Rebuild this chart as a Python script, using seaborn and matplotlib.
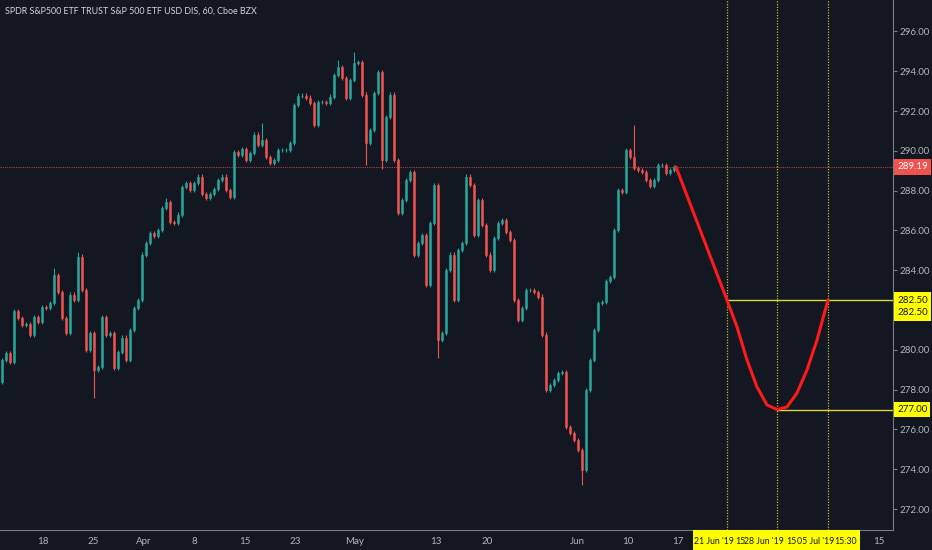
import numpy as np
import pandas as pd
import matplotlib
matplotlib.use("Agg")
import matplotlib.pyplot as plt
import matplotlib.transforms as mtransforms
from matplotlib.patches import Rectangle
import seaborn as sns

# ---------------- data ----------------
title = "SPDR S&P500 ETF TRUST S&P 500 ETF USD DIS, 60, Cboe BZX"
first_open = 278.38
closes = [
    279.49, 279.84, 279.39, 281.95, 281.60, 281.25, 281.30, 280.75, 281.65, 281.40,
    282.15, 282.10, 282.35, 283.76, 282.91, 281.60, 280.85, 282.76, 282.50, 284.67,
    283.01, 279.99, 280.85, 278.99, 279.14, 281.65, 280.75, 280.85, 279.09, 279.89,
    280.60, 279.49, 281.00, 282.10, 282.50, 284.77, 285.37, 285.87, 285.72, 286.02,
    287.13, 287.43, 286.42, 286.37, 286.78, 288.18, 288.38, 288.03, 288.38, 288.69,
    287.83, 287.63, 287.83, 288.08, 288.53, 288.69, 288.03, 287.68, 289.94, 289.79,
    290.09, 289.54, 289.89, 290.80, 290.29, 290.54, 289.69, 289.39, 289.54, 290.04,
    290.04, 290.04, 290.39, 292.30, 292.76, 292.76, 292.66, 292.40, 291.30, 292.45,
    292.45, 292.40, 292.71, 293.81, 294.21, 293.66, 292.66, 293.56, 294.41, 294.46,
    292.81, 290.39, 291.05, 292.91, 293.96, 289.54, 291.70, 292.81, 289.54, 286.88,
    287.53, 288.53, 288.94, 284.77, 285.37, 285.77, 283.26, 286.37, 288.28, 280.49,
    280.85, 284.01, 284.77, 282.50, 285.02, 285.37, 288.69, 288.28, 285.77, 287.53,
    286.27, 284.77, 284.01, 285.62, 286.37, 286.52, 285.92, 285.52, 282.50, 281.50,
    282.10, 283.01, 283.01, 282.91, 282.66, 280.75, 277.98, 278.23, 278.48, 278.84,
    278.89, 276.12, 275.82, 275.47, 274.97, 273.96, 277.98, 279.49, 281.00, 282.35,
    282.40, 283.46, 283.66, 286.02, 288.03, 287.93, 290.04, 289.69, 289.14, 289.04,
    288.94, 288.53, 288.23, 288.53, 289.29, 289.29, 288.89, 289.04, 289.19,
]
# notable wick extremes (candle index -> price)
wick_highs = {13: 284.11, 19: 284.92, 41: 287.63, 65: 291.40, 84: 294.57,
              88: 294.97, 158: 291.30}
wick_lows = {23: 277.58, 91: 289.30, 95: 289.10, 109: 279.60, 145: 273.20}

date_labels = ["18", "25", "Apr", "8", "15", "23", "May", "13", "20", "Jun", "10", "17", "15"]
date_bars = [10.25, 22.75, 35.5, 48, 60.75, 73.25, 88.25, 108.5, 121.25, 143.75, 156.5, 169, 219.25]
price_ticks = [296, 294, 292, 290, 288, 286, 284, 280, 278, 276, 274, 272]

last_price = 289.19
target_price = 282.50
bottom_price = 277.00

proj_bars = [168.5, 181.25, 183.75, 186.25, 188.75, 191.25, 193.75, 196.25,
             198.75, 201.25, 203.75, 206.5]
proj_prices = [289.19, 282.50, 281.15, 279.49, 278.13, 277.23, 277.00, 277.13,
               277.83, 278.99, 280.49, 282.50]
marker_bars = [181.25, 193.75, 206.5]

box_labels = ["21 Jun '19", "15", "28 Jun '19", "15", "05 Jul '19", "15:30"]
box_label_bars = [178, 184.6, 190.5, 197.25, 203.5, 211]

# ---------------- style ----------------
BG = "#131722"
GREEN = "#26a69a"
RED = "#ef5350"
TXT = "#b2b5be"
YEL = "#d8d838"

sns.set_theme(style="dark", rc={"axes.facecolor": BG, "figure.facecolor": BG})
plt.rcParams["font.family"] = ["Lato", "DejaVu Sans"]

fig = plt.figure(figsize=(9.32, 5.5), dpi=100)
ax = fig.add_axes([0, 20 / 550, 893 / 932, 530 / 550])
ax.set_facecolor(BG)

opens = [first_open] + closes[:-1]
df = pd.DataFrame({"open": opens, "close": closes})
df["bar"] = np.arange(len(df))
df["top"] = df[["open", "close"]].max(axis=1)
df["bot"] = df[["open", "close"]].min(axis=1)
df["high"] = df["top"] + 0.12
df["low"] = df["bot"] - 0.12
for k, v in wick_highs.items():
    df.loc[k, "high"] = v
for k, v in wick_lows.items():
    df.loc[k, "low"] = v
colors = np.where(df["close"] >= df["open"], GREEN, RED)

ax.vlines(df["bar"], df["low"], df["high"], colors=colors, lw=0.8, zorder=3)
ax.bar(df["bar"], df["top"] - df["bot"], bottom=df["bot"], width=0.72,
       color=colors, edgecolor=colors, linewidth=0.4, zorder=4)

# last price line
ax.axhline(last_price, color=RED, lw=0.8, ls=(0, (1, 1)), alpha=0.7, zorder=2)

# vertical dotted markers
for b in marker_bars:
    ax.axvline(b, color="#bcbc2a", lw=0.9, ls=(0, (1, 1.2)), zorder=2)

xmax = 222.75
ax.hlines(target_price, marker_bars[0], xmax, color=YEL, lw=1.0, zorder=2)
ax.hlines(bottom_price, marker_bars[1], xmax, color=YEL, lw=1.0, zorder=2)

# projection curve
proj = pd.DataFrame({"bar": proj_bars, "price": proj_prices})
sns.lineplot(data=proj, x="bar", y="price", ax=ax, color="#ff1a1a", lw=2.2,
             sort=False, zorder=5)

ax.set_xlim(-0.5, xmax)
ax.set_ylim(270.945, 297.578)
ax.set_xlabel("")
ax.set_ylabel("")
ax.grid(False)

ax.yaxis.tick_right()
ax.set_yticks(price_ticks)
ax.set_yticklabels([f"{p:.2f}" for p in price_ticks])
ax.set_xticks(date_bars)
ax.set_xticklabels(date_labels)
ax.tick_params(axis="both", colors="#787b86", labelcolor=TXT, labelsize=7,
               length=3, width=0.8, pad=2, direction="out")
for s in ["top", "left"]:
    ax.spines[s].set_visible(False)
for s in ["right", "bottom"]:
    ax.spines[s].set_visible(True)
    ax.spines[s].set_color("#787b86")
    ax.spines[s].set_linewidth(0.8)

# right-axis price labels
trans_y = mtransforms.blended_transform_factory(ax.transAxes, ax.transData)
def price_tag(y, txt, fc, tc):
    ax.text(1.0045, y, txt, transform=trans_y, ha="left", va="center",
            fontsize=7, color=tc, clip_on=False, zorder=10,
            bbox=dict(boxstyle="square,pad=0.32", fc=fc, ec="none"))

price_tag(last_price, f"{last_price:.2f}", "#ef5350", "white")
price_tag(target_price, f"{target_price:.2f}", "#ffff00", "#131722")
price_tag(target_price - 0.65, f"{target_price:.2f}", "#ffff00", "#131722")
price_tag(bottom_price, f"{bottom_price:.2f}", "#ffff00", "#131722")

# bottom yellow date box
trans_x = mtransforms.blended_transform_factory(ax.transData, ax.transAxes)
ax.add_patch(Rectangle((172.75, -20 / 530), 214.5 - 172.75, 20 / 530,
                       transform=trans_x, fc="#ffff00", ec="none",
                       clip_on=False, zorder=9))
for b, t in zip(box_label_bars, box_labels):
    ax.text(b, -11 / 530, t, transform=trans_x, ha="center", va="center",
            fontsize=6.3, color="#131722", clip_on=False, zorder=10)

fig.text(5 / 932, 1 - 11 / 550, title, ha="left", va="center",
         fontsize=6.4, color="#d1d4dc")

fig.savefig("out.png", dpi=100, facecolor=BG)
